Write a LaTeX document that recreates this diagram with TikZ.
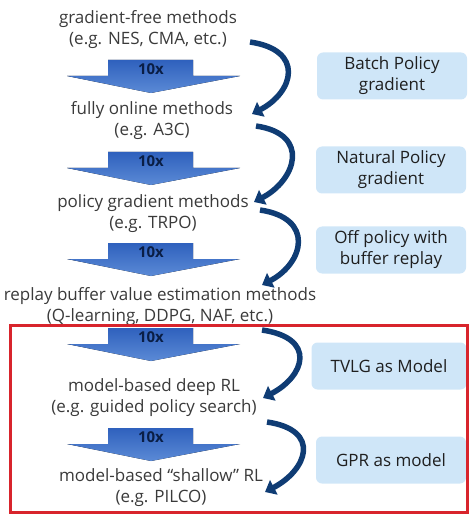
\documentclass[tikz,border=0pt]{standalone}
\usepackage{fontspec}
\setmainfont{Open Sans}
\usepackage{xcolor}
\usepackage{tikz}
\usetikzlibrary{arrows.meta, positioning, calc}

\definecolor{methodgray}{HTML}{3A3A3A}
\definecolor{bendnavy}{HTML}{0F3C74}
\definecolor{tenxnavy}{HTML}{0A1E45}
\definecolor{speedtop}{HTML}{2F61BD}
\definecolor{speedbot}{HTML}{5B8AD6}
\definecolor{tagblue}{HTML}{CFE6F8}
\definecolor{framered}{HTML}{D8242C}

\begin{document}
\begin{tikzpicture}[
      x=1pt, y=-1pt,
      method/.style={align=center, text=methodgray, inner sep=0pt, font=\fontsize{17}{21}\selectfont},
      tagbox/.style={rounded corners=6pt, fill=tagblue, minimum width=150pt, minimum height=47pt,
                     align=center, text=black!88, font=\fontsize{17}{21}\selectfont},
      speedup/.style={top color=speedtop, bottom color=speedbot},
      tenx/.style={text=tenxnavy, font=\fontsize{15}{17}\selectfont\bfseries},
      curvearrow/.style={draw=bendnavy, line width=5.5pt, -{Triangle[width=16pt,length=10pt]}}
    ]
      \useasboundingbox (0,0) rectangle (473,518);

      % methods
      \node[method] (m1) at (148,30) {gradient-free methods\\(e.g. NES, CMA, etc.)};
      \node[method] (m2) at (152,121) {fully online methods\\(e.g. A3C)};
      \node[method] (m3) at (153,214) {policy gradient methods\\(e.g. TRPO)};
      \node[method] (m4) at (160,307) {replay buffer value estimation methods\\(Q-learning, DDPG, NAF, etc.)};
      \node[method] (m5) at (154,398) {model-based deep RL\\(e.g. guided policy search)};
      \node[method] (m6) at (161,488) {model-based “shallow” RL\\(e.g. PILCO)};

      % 10x arrows
      \foreach \y/\n in {60/1,152/2,243/3,328/4,428/5} {
        \fill[speedup] (108,\y) -- (193,\y) -- (193,\y+16) -- (240,\y+16) -- (151,\y+33)
          -- (67,\y+16) -- (108,\y+16) -- cycle;
        \node[tenx] (x\n) at (151,\y+9) {10x};
      }

      % tags
      \node[tagbox] (b1) at (392,76) {Batch Policy\\gradient};
      \node[tagbox] (b2) at (391,170) {Natural Policy\\gradient};
      \node[tagbox] (b3) at (391,250) {Off policy with\\buffer replay};
      \node[tagbox, minimum width=155pt] (b4) at (389,366) {TVLG as Model};
      \node[tagbox] (b5) at (391,460) {GPR as model};

      \draw[framered, line width=3pt] (10,325) rectangle (467,512);

      % curved arrows
      \foreach \i/\sx/\sy/\ex/\ey in {1/250/42/252/114, 2/256/126/254/202, 3/260/210/262/285,
                                      4/262/330/263/398, 5/267/422/265/492} {
        \coordinate (s\i) at (\sx,\sy);
        \coordinate (e\i) at (\ex,\ey);
        \draw[curvearrow] (s\i) .. controls ($(s\i)+(55,8)$) and ($(e\i)+(42,-22)$) .. (e\i);
      }
    \end{tikzpicture}
\end{document}
